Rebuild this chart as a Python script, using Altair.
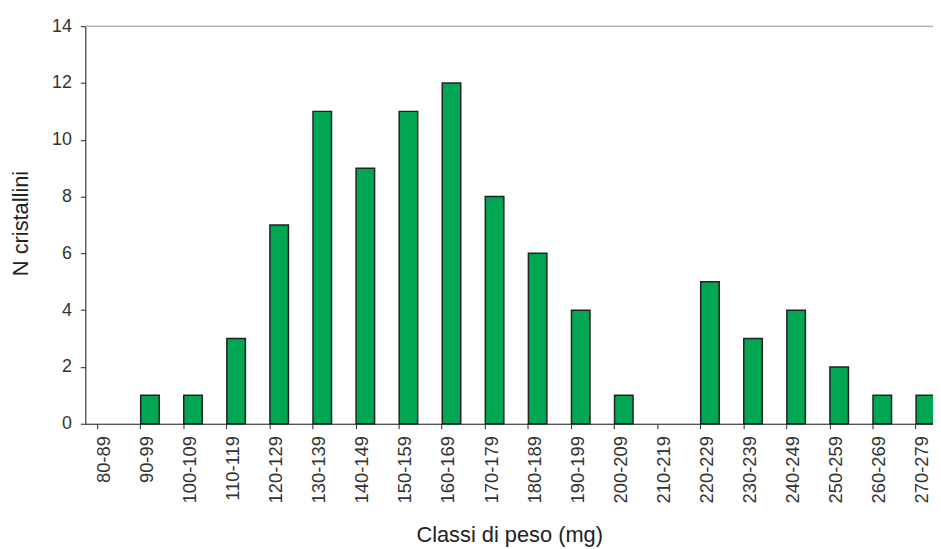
import altair as alt
import pandas as pd

classes = ["80-89", "90-99", "100-109", "110-119", "120-129", "130-139", "140-149",
           "150-159", "160-169", "170-179", "180-189", "190-199", "200-209", "210-219",
           "220-229", "230-239", "240-249", "250-259", "260-269", "270-279"]
counts = [0, 1, 1, 3, 7, 11, 9, 11, 12, 8, 6, 4, 1, 0, 5, 3, 4, 2, 1, 1]

df = pd.DataFrame({"classe": classes, "n": counts})

FONT = "Liberation Sans"
W, H = 855, 401

x_enc = alt.X(
    "classe:N", sort=classes, title="Classi di peso (mg)",
    scale=alt.Scale(domain=classes, range=[0, 869], paddingInner=0.57, paddingOuter=0.285),
    axis=alt.Axis(labelAngle=270, labelAlign="right", labelBaseline="middle",
                  labelPadding=7, labelOffset=-3, tickSize=5, bandPosition=0,
                  tickColor="#222", domainColor="#222", labelColor="#333",
                  labelFontSize=18.5, labelFont=FONT, titleFont=FONT, titleFontSize=22,
                  titleFontWeight="normal", titleColor="#222",
                  titleX=W / 2, titleY=112, titleBaseline="middle", titleAlign="center"),
)

bars = alt.Chart(df).transform_filter("datum.n > 0").mark_bar(
    color="#00a651", stroke="#222", strokeWidth=1.5
).encode(
    x=x_enc,
    y=alt.Y("n:Q", title="N cristallini",
            scale=alt.Scale(domain=[0, 14], nice=False),
            axis=alt.Axis(values=[0, 2, 4, 6, 8, 10, 12, 14], tickSize=5, grid=False,
                          domainColor="#222", tickColor="#222", labelColor="#333",
                          labelFontSize=18, labelFont=FONT, labelPadding=9,
                          titleFont=FONT, titleFontSize=22, titleFontWeight="normal",
                          titleColor="#222", titleX=-65, titleY=H / 2 - 2,
                          titleAngle=270, titleBaseline="middle", titleAlign="center")),
)

top_line = alt.Chart(pd.DataFrame({"y": [14]})).mark_rule(color="#999", strokeWidth=1).encode(
    y=alt.Y("y:Q"), x=alt.value(0), x2=alt.value(W)
)

chart = alt.layer(bars, top_line).properties(
    width=W, height=H,
    autosize=alt.AutoSizeParams(type="none"),
    padding={"left": 78, "top": 16, "right": 0, "bottom": 124},
).configure_view(stroke=None).configure(background="white")

chart.save("out.html", embed_options={"renderer": "svg", "actions": False})
